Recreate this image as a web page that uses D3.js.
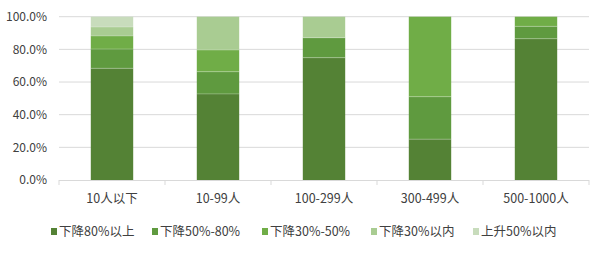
<!DOCTYPE html>
<html>
<head>
<meta charset="utf-8">
<script src="https://cdn.jsdelivr.net/npm/d3@7"></script>
<style>
  body { margin: 0; background: #fff; }
  text { font-family: "Noto Sans CJK SC", "Noto Sans", sans-serif; fill: #404040; }
</style>
</head>
<body>
<svg id="chart" width="600" height="253"></svg>
<script>
// 1. data
const categories = ['10人以下', '10-99人', '100-299人', '300-499人', '500-1000人'];
const seriesNames = ['下降80%以上', '下降50%-80%', '下降30%-50%', '下降30%以内', '上升50%以内'];
const drop80 = [68.4, 52.7, 74.9, 25.0, 86.5];
const drop50to80 = [11.8, 13.6, 12.2, 26.0, 7.6];
const drop30to50 = [8.0, 13.3, 0, 49.0, 5.9];
const drop30 = [5.5, 20.4, 12.9, 0, 0];
const rise50 = [6.3, 0, 0, 0, 0];
const yTicks = [0, 20, 40, 60, 80, 100];
const colors = ['#548235', '#5f9a3f', '#70ad47', '#a9cc92', '#c8dcbc'];

const seriesValues = [drop80, drop50to80, drop30to50, drop30, rise50];
const table = categories.map((c, i) => {
  const row = { cat: c };
  seriesNames.forEach((s, j) => row[s] = seriesValues[j][i]);
  return row;
});

// 2. layout
const plotLeft = 59, plotRight = 589, plotTop = 16.7, plotBottom = 180;

const x = d3.scaleBand()
  .domain(categories)
  .range([plotLeft, plotRight])
  .paddingInner(0.6)
  .paddingOuter(0.3);

const xStep = d3.scaleBand()
  .domain(categories)
  .range([plotLeft, plotRight]);

const y = d3.scaleLinear()
  .domain([0, 100])
  .range([plotBottom, plotTop]);

const svg = d3.select('#chart');

// gridlines
svg.append('g')
  .selectAll('line')
  .data(yTicks.filter(d => d > 0)).enter()
  .append('line')
  .attr('x1', plotLeft)
  .attr('x2', plotRight)
  .attr('y1', d => y(d))
  .attr('y2', d => y(d))
  .attr('stroke', '#d9d9d9')
  .attr('stroke-width', 1);

// y labels
svg.append('g')
  .selectAll('text')
  .data(yTicks).enter()
  .append('text')
  .attr('x', 47)
  .attr('y', d => y(d))
  .attr('dy', '0.35em')
  .attr('text-anchor', 'end')
  .style('font-size', '12px')
  .text(d => d.toFixed(1) + '%');

// stacked bars
const stack = d3.stack().keys(seriesNames)(table);

svg.append('g')
  .selectAll('g')
  .data(stack).enter()
  .append('g')
  .attr('fill', (d, i) => colors[i])
  .selectAll('rect')
  .data(d => d).enter()
  .append('rect')
  .attr('x', d => x(d.data.cat))
  .attr('width', x.bandwidth())
  .attr('y', d => y(d[1]))
  .attr('height', d => y(d[0]) - y(d[1]));

// thin light separators between segments
svg.append('g')
  .selectAll('g')
  .data(stack.slice(0, -1)).enter()
  .append('g')
  .selectAll('line')
  .data(d => d.filter(v => v[1] > v[0] && v[1] < 100)).enter()
  .append('line')
  .attr('x1', d => x(d.data.cat))
  .attr('x2', d => x(d.data.cat) + x.bandwidth())
  .attr('y1', d => y(d[1]))
  .attr('y2', d => y(d[1]))
  .attr('stroke', '#ffffff')
  .attr('stroke-opacity', 0.25)
  .attr('stroke-width', 1);

// x axis
const xAxis = svg.append('g');
xAxis.append('line')
  .attr('x1', plotLeft)
  .attr('x2', plotRight)
  .attr('y1', plotBottom + 0.5)
  .attr('y2', plotBottom + 0.5)
  .attr('stroke', '#d9d9d9');

const tickPos = categories.map(c => xStep(c)).concat([plotRight]);
xAxis.selectAll('.tick')
  .data(tickPos).enter()
  .append('line')
  .attr('x1', d => d)
  .attr('x2', d => d)
  .attr('y1', plotBottom)
  .attr('y2', plotBottom + 5)
  .attr('stroke', '#d9d9d9');

xAxis.selectAll('text')
  .data(categories).enter()
  .append('text')
  .attr('x', d => x(d) + x.bandwidth() / 2)
  .attr('y', 199)
  .attr('dy', '0.35em')
  .attr('text-anchor', 'middle')
  .style('font-size', '12.5px')
  .text(d => d);

// legend
const legendX = [51, 152, 262, 371, 473];
const legend = svg.append('g')
  .selectAll('g')
  .data(seriesNames).enter()
  .append('g')
  .attr('transform', (d, i) => `translate(${legendX[i]},231.5)`);

legend.append('rect')
  .attr('x', 0)
  .attr('y', -3.5)
  .attr('width', 6)
  .attr('height', 7)
  .attr('fill', (d, i) => colors[i]);

legend.append('text')
  .attr('x', 8)
  .attr('y', 0)
  .attr('dy', '0.35em')
  .style('font-size', '12.5px')
  .text(d => d);
</script>
</body>
</html>
